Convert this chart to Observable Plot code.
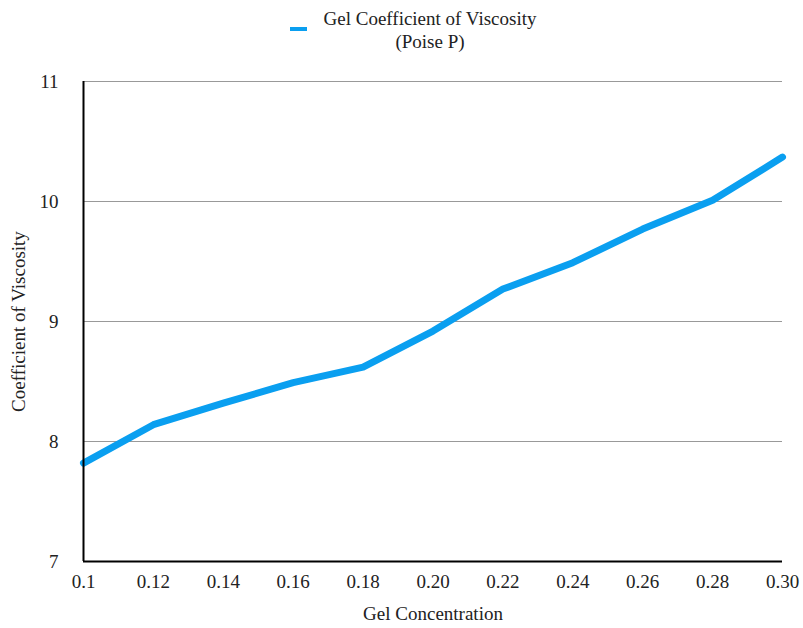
<!DOCTYPE html>
<html><head><meta charset="utf-8">
<script src="https://cdn.jsdelivr.net/npm/d3@7"></script>
<script src="https://cdn.jsdelivr.net/npm/@observablehq/plot@0.6"></script>
<style>
body{margin:0;background:#fff;font-family:"Times New Roman","Liberation Serif","Noto Serif","DejaVu Serif";}
#wrap{position:relative;width:803px;height:628px;}
#legend .sw{position:absolute;left:290px;top:27px;width:17px;height:4px;background:#0a9ff0;}
#legend .tx{position:absolute;left:310px;top:7px;width:240px;text-align:center;font-size:19px;color:#222;line-height:23px;}
</style></head>
<body><div id="wrap"><div id="legend"><div class="sw"></div><div class="tx">Gel Coefficient of Viscosity<br>(Poise P)</div></div><div id="chart"></div></div>
<script>
const concentration = [0.10,0.12,0.14,0.16,0.18,0.20,0.22,0.24,0.26,0.28,0.30];
const viscosity = [7.82,8.14,8.32,8.49,8.62,8.92,9.27,9.49,9.77,10.01,10.37];
const xTickLabels = ["0.1","0.12","0.14","0.16","0.18","0.20","0.22","0.24","0.26","0.28","0.30"];
const yTicks = [7,8,9,10,11];
const data = concentration.map((c,i)=>({c, v: viscosity[i]}));
const chart = Plot.plot({
  width: 803, height: 628,
  marginLeft: 83, marginRight: 21, marginTop: 81, marginBottom: 67,
  style: {fontFamily: '"Times New Roman","Liberation Serif","Noto Serif","DejaVu Serif"', fontSize: "19px", color: "#222", background: "transparent"},
  x: {domain: [0.1, 0.3], ticks: concentration, tickFormat: (d,i)=>xTickLabels[i], tickSize: 0, tickPadding: 13,
      label: "Gel Concentration", labelAnchor: "center", labelOffset: 58, labelArrow: "none"},
  y: {domain: [7, 11], ticks: yTicks, tickFormat: d=>String(d), tickSize: 0, tickPadding: 25,
      label: "Coefficient of Viscosity", labelAnchor: "center", labelOffset: 72, labelArrow: "none"},
  marks: [
    Plot.gridY(yTicks.slice(1), {stroke: "#999", strokeOpacity: 1, strokeWidth: 1}),
    Plot.line(data, {x: "c", y: "v", stroke: "#0a9ff0", strokeWidth: 7, strokeLinejoin: "round"}),
    Plot.ruleY([7], {stroke: "#000", strokeWidth: 2}),
    Plot.ruleX([0.1], {stroke: "#000", strokeWidth: 2})
  ]
});
document.getElementById("chart").appendChild(chart);
</script></body></html>
